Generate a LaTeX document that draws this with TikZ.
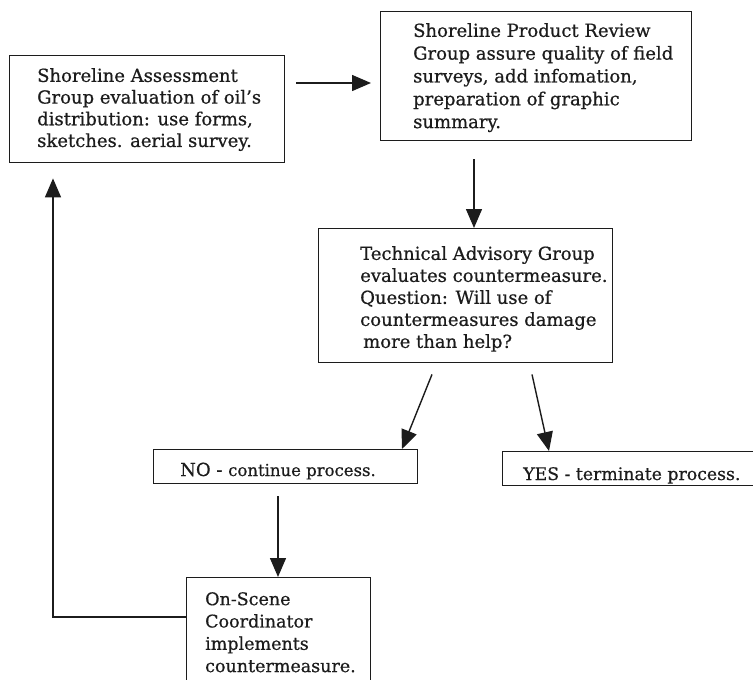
\documentclass[tikz,border=0pt]{standalone}
\usepackage{fontspec}
\setmainfont{DejaVu Serif}[FakeBold=0.6]
\usetikzlibrary{arrows.meta}
\definecolor{ink}{HTML}{1C1C1C}
\begin{document}
\begin{tikzpicture}[x=1pt,y=-1pt,
  frame/.style={draw=ink, line width=1.4pt, rectangle, anchor=north west, inner sep=0pt},
  txt/.style={anchor=north west, align=left, inner sep=0pt, text=ink},
  arr/.style={draw=ink, line width=1.4pt, -{Triangle[length=19pt,width=16pt]}},
  ln/.style={draw=ink, line width=1.4pt}]
\useasboundingbox[fill=white] (0,0) rectangle (753,680);
\clip (0,0) rectangle (753,680);
% boxes
\node[frame, minimum width=275pt, minimum height=107pt] (b1) at (9,55) {};
\node[frame, minimum width=311pt, minimum height=129pt] (b2) at (380,11) {};
\node[frame, minimum width=294pt, minimum height=134pt] (b3) at (318,228) {};
\node[frame, minimum width=264pt, minimum height=34pt] (no) at (153,449) {};
\node[frame, minimum width=251pt, minimum height=34pt] (yes) at (502,451) {};
\node[frame, minimum width=184pt, minimum height=114pt] (osc) at (186,577) {};
% texts
\node[txt, font=\fontsize{18}{21.7}\selectfont] (b1t) at ([shift={(28,13)}]b1.north west)
  {Shoreline Assessment\\Group evaluation of oil’s\\distribution: use forms,\\sketches. aerial survey.};
\node[txt, font=\fontsize{18}{22.8}\selectfont] (b2t) at ([shift={(33,12)}]b2.north west)
  {Shoreline Product Review\\Group assure quality of field\\surveys, add infomation,\\preparation of graphic\\summary.};
\node[txt, font=\fontsize{18}{22}\selectfont] (b3t) at ([shift={(42,18)}]b3.north west)
  {Technical Advisory Group\\evaluates countermeasure.\\Question: Will use of\\countermeasures damage\\\hspace*{3pt}more than help?};
\node[txt, font=\fontsize{18}{22}\selectfont, anchor=base west] (not) at ([shift={(27,27)}]no.north west)
  {NO - \fontsize{16.5}{20}\selectfont continue process.};
\node[txt, font=\fontsize{17.3}{22}\selectfont, anchor=base west] (yest) at ([shift={(21,29)}]yes.north west)
  {YES - terminate process.};
\node[txt, font=\fontsize{17.5}{22.3}\selectfont] (osct) at ([shift={(19,15)}]osc.north west)
  {On-Scene\\Coordinator\\implements\\countermeasure.};
% connectors
\draw[arr] ([shift={(11,28)}]b1.north east) -- ([shift={(-9,72)}]b2.north west);
\draw[arr] ([shift={(94,18)}]b2.south west) -- ([xshift=156pt]b3.north west);
\draw[arr] ([shift={(114,11)}]b3.south west) -- ([xshift=249pt]no.north west);
\draw[arr] ([shift={(214,11)}]b3.south west) -- ([xshift=47pt]yes.north west);
\draw[arr] ([shift={(125,12)}]no.south west) -- ([xshift=92pt]osc.north west);
\draw[arr] ([yshift=-40pt]osc.north west) -| ([shift={(44,15)}]b1.south west);
\end{tikzpicture}
\end{document}
